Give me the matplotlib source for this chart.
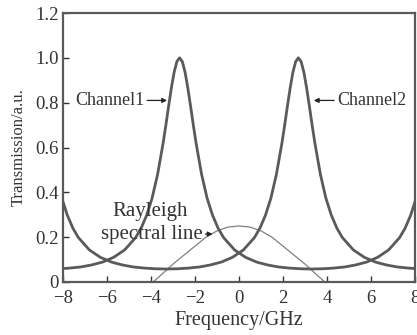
import matplotlib
matplotlib.use("Agg")
import matplotlib.pyplot as plt

plt.rcParams['font.family'] = ['Liberation Serif', 'DejaVu Serif']

# Channel 1 transmission (peak near -2.7 GHz)
ch1_x = [-8.0, -7.7, -7.2, -6.7, -6.2, -5.7, -5.2, -4.7, -4.45, -4.2, -3.95, -3.7,
         -3.45, -3.325, -3.2, -3.075, -2.95, -2.825, -2.7, -2.575, -2.45, -2.325,
         -2.2, -2.075, -1.95, -1.7, -1.45, -1.2, -0.95, -0.7, -0.2, 0.3, 0.8, 1.3,
         1.8, 2.3, 2.8, 3.3, 3.8, 4.3, 4.8, 5.3, 5.8, 6.3, 6.8, 7.3, 7.55, 7.8, 8.0]
ch1_y = [0.060, 0.062, 0.067, 0.076, 0.089, 0.110, 0.143, 0.198, 0.240, 0.297, 0.374, 0.480,
         0.619, 0.699, 0.784, 0.865, 0.935, 0.983, 1.000, 0.983, 0.935, 0.865,
         0.784, 0.699, 0.619, 0.480, 0.374, 0.297, 0.240, 0.198, 0.143, 0.110, 0.089, 0.076,
         0.067, 0.062, 0.059, 0.058, 0.059, 0.062, 0.067, 0.076, 0.089, 0.110, 0.143, 0.198, 0.240, 0.297, 0.358]

# Channel 2 transmission (peak near +2.7 GHz)
ch2_x = [-8.0, -7.8, -7.55, -7.3, -6.8, -6.3, -5.8, -5.3, -4.8, -4.3, -3.8, -3.3, -2.8,
         -2.3, -1.8, -1.3, -0.8, -0.3, 0.2, 0.7, 0.95, 1.2, 1.45, 1.7, 1.95, 2.075,
         2.2, 2.325, 2.45, 2.575, 2.7, 2.825, 2.95, 3.075, 3.2, 3.325, 3.45, 3.7,
         3.95, 4.2, 4.45, 4.7, 5.2, 5.7, 6.2, 6.7, 7.2, 7.7, 8.0]
ch2_y = [0.358, 0.297, 0.240, 0.198, 0.143, 0.110, 0.089, 0.076, 0.067, 0.062, 0.059, 0.058, 0.059,
         0.062, 0.067, 0.076, 0.089, 0.110, 0.143, 0.198, 0.240, 0.297, 0.374, 0.480, 0.619, 0.699,
         0.784, 0.865, 0.935, 0.983, 1.000, 0.983, 0.935, 0.865, 0.784, 0.699, 0.619, 0.480,
         0.374, 0.297, 0.240, 0.198, 0.143, 0.110, 0.089, 0.076, 0.067, 0.062, 0.060]

# Rayleigh spectral line
ray_x = [-3.9, -3.5, -3.0, -2.5, -2.0, -1.5, -1.0, -0.5, 0.0, 0.5, 1.0, 1.5, 2.0, 2.5, 3.0, 3.5, 3.9]
ray_y = [0.0, 0.035, 0.08, 0.12, 0.16, 0.20, 0.228, 0.245, 0.25, 0.245, 0.228, 0.20, 0.16, 0.12, 0.08, 0.035, 0.0]

xticks = [-8, -6, -4, -2, 0, 2, 4, 6, 8]
xtick_labels = ['\u22128', '\u22126', '\u22124', '\u22122', '0', '2', '4', '6', '8']
yticks = [0, 0.2, 0.4, 0.6, 0.8, 1.0, 1.2]
ytick_labels = ['0', '0.2', '0.4', '0.6', '0.8', '1.0', '1.2']

fig = plt.figure(figsize=(4.17, 3.35), dpi=100)
ax = fig.add_axes([63/417, 1 - 282/335, (415 - 63)/417, (282 - 13)/335])

ax.plot(ray_x, ray_y, color='#808080', lw=0.9, zorder=2)
ax.plot(ch1_x, ch1_y, color='#5a5a5a', lw=2.0, zorder=3)
ax.plot(ch2_x, ch2_y, color='#5a5a5a', lw=2.0, zorder=3)

ax.set_xlim(-8, 8)
ax.set_ylim(0, 1.2)
ax.set_xticks(xticks)
ax.set_xticklabels(xtick_labels)
ax.set_yticks(yticks)
ax.set_yticklabels(ytick_labels)
ax.tick_params(direction='in', length=4, width=1, labelsize=13.5, colors='#333333',
               top=False, right=False)
ax.tick_params(axis='x', pad=6)
ax.tick_params(axis='y', pad=3)
for s in ax.spines.values():
    s.set_color('#5a5a5a')
    s.set_linewidth(1.6)

ax.set_xlabel('Frequency/GHz', fontsize=14.5, color='#333333', labelpad=3)
ax.set_ylabel('Transmission/a.u.', fontsize=12, color='#333333', labelpad=6)

arrow_kw = dict(arrowstyle='-|>', color='#222222', lw=0.9, mutation_scale=7,
                shrinkA=0, shrinkB=0)
ax.annotate('Channel1', xy=(-3.27, 0.81), xytext=(-4.3, 0.81), fontsize=13,
            ha='right', va='center', color='#333333', arrowprops=arrow_kw)
ax.annotate('Channel2', xy=(3.4, 0.81), xytext=(4.45, 0.81), fontsize=13,
            ha='left', va='center', color='#333333', arrowprops=arrow_kw)
ax.text(-4.05, 0.316, 'Rayleigh', fontsize=15, ha='center', va='center', color='#333333')
ax.annotate('spectral line', xy=(-1.2, 0.214), xytext=(-1.65, 0.214), fontsize=15,
            ha='right', va='center', color='#333333', arrowprops=arrow_kw)

fig.savefig('out.png', dpi=100)
